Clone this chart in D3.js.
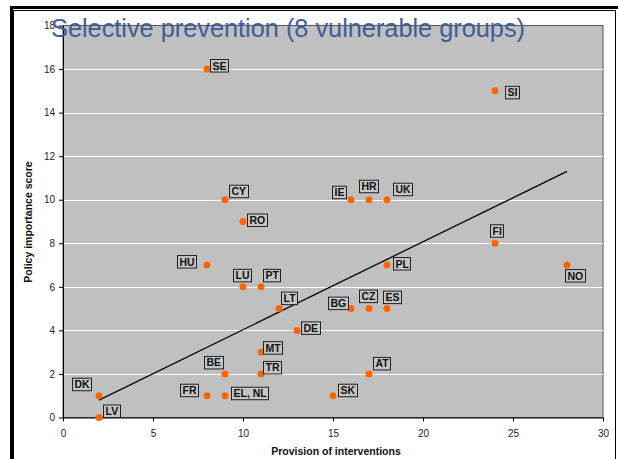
<!DOCTYPE html>
<html>
<head>
<meta charset="utf-8">
<script src="https://cdn.jsdelivr.net/npm/d3@7"></script>
<style>
  body { margin: 0; background: #fff; }
  svg { display: block; font-family: "Liberation Sans", Arial, sans-serif; }
</style>
</head>
<body>
<svg id="chart" width="618" height="459"></svg>
<script>
// Country codes with their provision and policy-importance scores
const countries  = ["SE","SI","CY","RO","IE","HR","UK","FI","NO","HU","LU","PT","PL","LT","BG","CZ","ES","DE","MT","BE","TR","AT","DK","FR","EL, NL","SK","LV"];
const provision  = [8, 24, 9, 10, 16, 17, 18, 24, 28, 8, 10, 11, 18, 12, 16, 17, 18, 13, 11, 9, 11, 17, 2, 8, 9, 15, 2];
const importance = [16, 15, 10, 9, 10, 10, 10, 8, 7, 7, 6, 6, 7, 5, 5, 5, 5, 4, 3, 2, 2, 2, 1, 1, 1, 1, 0];

// Linear trend line end points
const trendX = [2, 28];
const trendY = [0.8, 11.3];

const xTicks = [0, 5, 10, 15, 20, 25, 30];
const yTicks = [0, 2, 4, 6, 8, 10, 12, 14, 16, 18];

const title = "Selective prevention (8 vulnerable groups)";
const xTitle = "Provision of interventions";
const yTitle = "Policy importance score";

// Label box placement relative to each point (box top-left, px)
const labelPlacement = {
  "SE": [3, -10], "SI": [10, -5], "CY": [4, -15], "RO": [4, -8], "IE": [-19, -14],
  "HR": [-10, -20], "UK": [6, -17], "FI": [-5, -19], "NO": [-2, 4], "HU": [-30, -10],
  "LU": [-10, -18], "PT": [2, -18], "PL": [6, -8], "LT": [2, -17], "BG": [-23, -12],
  "CZ": [-10, -19], "ES": [-4, -18], "DE": [4, -9], "MT": [2, -11], "BE": [-21, -18],
  "TR": [2, -13], "AT": [4, -17], "DK": [-27, -18], "FR": [-27, -12], "EL, NL": [6, -9],
  "SK": [5, -12], "LV": [4, -13]
};

const svg = d3.select("#chart");

// Outer frame
svg.append("rect").attr("x", 10).attr("y", 6).attr("width", 608).attr("height", 453).attr("fill", "#000");
svg.append("rect").attr("x", 13).attr("y", 9).attr("width", 605).attr("height", 450).attr("fill", "#fff");
svg.append("path").attr("d", "M13.5,459 V10.5 H615.5 V459").attr("fill", "none").attr("stroke", "#000").attr("stroke-width", 1);

const x = d3.scaleLinear().domain([0, 30]).range([63, 603]);
const y = d3.scaleLinear().domain([0, 18]).range([417.5, 25.5]);

// Plot area
svg.append("rect")
  .attr("x", x(0)).attr("y", y(18))
  .attr("width", x(30) - x(0)).attr("height", y(0) - y(18))
  .attr("fill", "#c0c0c0").attr("stroke", "#555").attr("stroke-width", 1);

// Horizontal gridlines
svg.append("g").selectAll("line")
  .data(yTicks.filter(t => t > 0 && t < 18))
  .join("line")
  .attr("x1", x(0)).attr("x2", x(30))
  .attr("y1", d => Math.round(y(d)) + 0.5).attr("y2", d => Math.round(y(d)) + 0.5)
  .attr("stroke", "#fff").attr("stroke-width", 1);

// Axes
const yAxis = svg.append("g")
  .attr("transform", `translate(${x(0)},0)`)
  .call(d3.axisLeft(y).tickValues(yTicks).tickSize(4).tickSizeOuter(0).tickPadding(4));
const xAxis = svg.append("g")
  .attr("transform", `translate(0,${y(0)})`)
  .call(d3.axisBottom(x).tickValues(xTicks).tickSize(4).tickSizeOuter(0).tickPadding(8));
[xAxis, yAxis].forEach(g => {
  g.selectAll("path, line").attr("stroke", "#000");
  g.selectAll("text").attr("font-family", "Liberation Sans, Arial, sans-serif").attr("font-size", 10).attr("fill", "#222");
});

// Axis titles
svg.append("text")
  .attr("x", (x(0) + x(30)) / 2 + 3).attr("y", 455)
  .attr("text-anchor", "middle").attr("font-weight", "bold").attr("font-size", 10.5)
  .attr("fill", "#111").text(xTitle);
svg.append("text")
  .attr("transform", "translate(32,222) rotate(-90)")
  .attr("text-anchor", "middle").attr("font-weight", "bold").attr("font-size", 10.5)
  .attr("fill", "#111").text(yTitle);

// Trend line
svg.append("line")
  .attr("x1", x(trendX[0])).attr("y1", y(trendY[0]))
  .attr("x2", x(trendX[1])).attr("y2", y(trendY[1]))
  .attr("stroke", "#000").attr("stroke-width", 1.3);

const points = countries.map((c, i) => ({ code: c, px: provision[i], py: importance[i] }));

// Points
svg.append("g").selectAll("circle")
  .data(points)
  .join("circle")
  .attr("cx", d => x(d.px)).attr("cy", d => y(d.py))
  .attr("r", 3.5).attr("fill", "#ff6600");

// Country label boxes
const labels = svg.append("g").selectAll("g")
  .data(points)
  .join("g")
  .attr("transform", d => {
    const p = labelPlacement[d.code];
    return `translate(${x(d.px) + p[0]},${y(d.py) + p[1]})`;
  });
labels.append("rect").attr("class", "box");
labels.append("text")
  .attr("x", 2.5).attr("y", 10.5)
  .attr("font-weight", "bold").attr("font-size", 10.5).attr("fill", "#111")
  .text(d => d.code);
labels.each(function () {
  const g = d3.select(this);
  const w = g.select("text").node().getComputedTextLength();
  g.select("rect.box")
    .attr("x", 0.5).attr("y", 0.5)
    .attr("width", Math.round(w + 4)).attr("height", 12.5)
    .attr("fill", "#c4c4c4").attr("stroke", "#222").attr("stroke-width", 1);
});

// Title
svg.append("text")
  .attr("x", 51).attr("y", 37)
  .attr("font-size", 26).attr("fill", "#3f5f9a")
  .attr("textLength", 474).attr("lengthAdjust", "spacingAndGlyphs")
  .text(title);
</script>
</body>
</html>
